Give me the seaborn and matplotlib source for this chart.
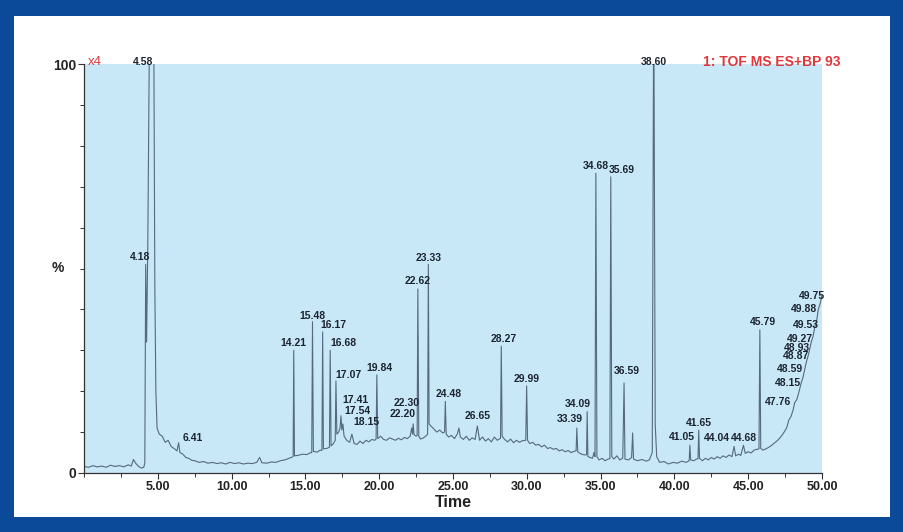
import matplotlib
matplotlib.use("Agg")
import matplotlib.pyplot as plt
import seaborn as sns
import pandas as pd
from matplotlib.patches import Rectangle
from matplotlib.ticker import FixedLocator

# ---------------- data ----------------
trace_time = [
    0.00, 0.30, 0.60, 0.90, 1.20, 1.50, 1.80, 2.10, 2.40, 2.70,
    3.00, 3.20, 3.35, 3.50, 3.70, 3.90, 4.05, 4.12, 4.18, 4.24,
    4.32, 4.45, 4.58, 4.72, 4.80, 4.87, 4.95, 5.10, 5.30, 5.50,
    5.70, 5.90, 6.10, 6.30, 6.41, 6.50, 6.70, 6.90, 7.10, 7.30,
    7.50, 7.80, 8.10, 8.40, 8.70, 9.00, 9.30, 9.60, 9.90, 10.20,
    10.50, 10.80, 11.10, 11.40, 11.70, 11.90, 12.05, 12.40, 12.70, 13.00,
    13.30, 13.60, 13.90, 14.10, 14.17, 14.21, 14.26, 14.50, 14.80, 15.10,
    15.30, 15.43, 15.48, 15.54, 15.80, 16.00, 16.12, 16.17, 16.22, 16.45,
    16.63, 16.68, 16.74, 16.90, 17.02, 17.07, 17.13, 17.25, 17.35, 17.41,
    17.47, 17.54, 17.62, 17.80, 18.00, 18.15, 18.30, 18.50, 18.70, 18.90,
    19.10, 19.30, 19.50, 19.70, 19.79, 19.84, 19.90, 20.10, 20.30, 20.50,
    20.70, 20.90, 21.10, 21.30, 21.50, 21.70, 21.90, 22.10, 22.20, 22.26,
    22.30, 22.36, 22.50, 22.57, 22.62, 22.68, 22.80, 23.00, 23.15, 23.28,
    23.33, 23.38, 23.50, 23.70, 23.90, 24.10, 24.30, 24.43, 24.48, 24.54,
    24.70, 24.90, 25.10, 25.30, 25.40, 25.50, 25.70, 25.90, 26.10, 26.30,
    26.50, 26.65, 26.80, 27.00, 27.20, 27.40, 27.60, 27.80, 28.00, 28.22,
    28.27, 28.33, 28.50, 28.70, 28.90, 29.10, 29.30, 29.50, 29.70, 29.93,
    29.99, 30.05, 30.20, 30.40, 30.60, 30.80, 31.00, 31.20, 31.40, 31.60,
    31.80, 32.00, 32.20, 32.40, 32.60, 32.80, 33.00, 33.20, 33.34, 33.39,
    33.45, 33.60, 33.80, 34.00, 34.05, 34.09, 34.14, 34.30, 34.45, 34.55,
    34.62, 34.68, 34.75, 34.90, 35.10, 35.30, 35.50, 35.63, 35.69, 35.76,
    35.90, 36.10, 36.30, 36.50, 36.59, 36.65, 36.90, 37.10, 37.17, 37.23,
    37.50, 37.80, 38.10, 38.30, 38.50, 38.60, 38.70, 38.80, 39.00, 39.30,
    39.60, 39.90, 40.20, 40.50, 40.80, 41.00, 41.05, 41.10, 41.30, 41.50,
    41.60, 41.65, 41.70, 41.90, 42.10, 42.30, 42.50, 42.70, 42.90, 43.10,
    43.30, 43.50, 43.70, 43.90, 44.04, 44.15, 44.35, 44.50, 44.68, 44.80,
    45.00, 45.20, 45.40, 45.60, 45.73, 45.79, 45.85, 46.00, 46.20, 46.40,
    46.60, 46.80, 47.00, 47.20, 47.40, 47.60, 47.76, 47.90, 48.05, 48.15,
    48.30, 48.45, 48.59, 48.72, 48.87, 48.93, 49.05, 49.15, 49.27, 49.40,
    49.53, 49.65, 49.75, 49.88, 50.00,
]
trace_pct = [
    1.6, 1.4, 1.8, 1.5, 1.7, 1.4, 1.9, 1.6, 1.8, 1.5,
    2.0, 1.7, 3.3, 2.4, 1.6, 1.2, 1.4, 2.5, 51.0, 32.0,
    55.0, 115.0, 125.0, 115.0, 45.0, 20.0, 11.0, 9.5, 9.0, 7.5,
    8.0, 6.5, 6.0, 5.4, 7.4, 5.0, 4.6, 3.8, 3.6, 3.1,
    3.0, 2.6, 2.8, 2.4, 2.6, 2.3, 2.5, 2.2, 2.6, 2.3,
    2.5, 2.2, 2.4, 2.3, 2.6, 3.8, 2.5, 2.4, 2.7, 2.6,
    3.0, 3.2, 3.6, 3.9, 4.0, 30.0, 4.2, 4.3, 4.6, 4.5,
    4.9, 5.0, 37.0, 5.3, 5.1, 5.6, 5.5, 34.5, 5.9, 6.0,
    6.3, 30.0, 6.6, 7.2, 8.0, 22.5, 9.5, 10.0, 11.0, 14.0,
    10.5, 12.0, 9.0, 8.0, 7.5, 9.5, 7.2, 7.0, 7.8, 7.2,
    8.0, 7.6, 8.2, 8.0, 8.3, 24.0, 8.4, 9.0, 8.2, 8.0,
    8.6, 8.3, 8.0, 8.5, 8.1, 8.7, 8.4, 9.0, 11.0, 9.5,
    12.0, 9.4, 9.0, 9.2, 45.0, 9.0, 8.3, 8.6, 9.0, 9.5,
    51.0, 12.0, 11.5, 10.8, 10.0, 10.5, 9.8, 10.0, 17.5, 9.5,
    8.8, 9.2, 8.4, 9.6, 11.0, 8.8, 8.2, 9.0, 8.0, 8.6,
    8.2, 11.5, 8.0, 8.8, 7.8, 8.4, 7.6, 8.8, 8.0, 8.5,
    31.0, 9.0, 8.2, 7.6, 8.3, 7.4, 8.0, 7.5, 7.9, 8.0,
    21.3, 8.0, 7.2, 7.5, 6.8, 7.0, 6.4, 6.8, 6.0, 6.2,
    5.8, 6.0, 5.4, 5.7, 5.2, 5.5, 5.0, 5.3, 5.4, 11.0,
    5.2, 4.8, 4.5, 4.4, 4.5, 15.0, 4.0, 3.8, 3.6, 5.0,
    4.0, 73.3, 4.0, 3.2, 3.6, 3.0, 3.4, 3.5, 72.4, 4.0,
    3.4, 4.2, 3.2, 3.6, 22.0, 3.4, 3.2, 3.8, 9.8, 3.4,
    3.0, 3.3, 2.9, 3.2, 5.0, 120.0, 12.0, 4.0, 2.6, 2.8,
    2.2, 2.6, 2.4, 2.9, 2.6, 3.0, 6.8, 3.2, 3.0, 3.4,
    3.5, 10.5, 3.6, 3.0, 3.6, 3.2, 3.8, 3.4, 4.0, 3.6,
    4.2, 3.8, 4.4, 4.0, 6.5, 4.2, 4.6, 4.3, 6.8, 4.8,
    5.2, 4.9, 5.6, 5.8, 5.9, 35.0, 6.0, 5.6, 5.9, 6.3,
    6.8, 7.4, 8.0, 8.8, 9.8, 11.0, 13.0, 13.8, 15.5, 17.2,
    18.0, 20.0, 22.0, 23.5, 26.0, 27.0, 28.5, 30.0, 32.0, 33.5,
    36.0, 37.5, 40.0, 41.5, 43.5,
]

# labelled peaks: retention time and apex height (%) used to anchor the label
peak_time = [4.18, 4.58, 6.41, 14.21, 15.48, 16.17, 16.68, 17.07, 17.41, 17.54,
             18.15, 19.84, 22.20, 22.30, 22.62, 23.33, 24.48, 26.65, 28.27, 29.99,
             33.39, 34.09, 34.68, 35.69, 36.59, 38.60, 41.05, 41.65, 44.04, 44.68,
             45.79, 47.76, 48.15, 48.59, 48.87, 48.93, 49.27, 49.53, 49.88, 49.75]
peak_apex = [51.1, 100.0, 6.8, 30.1, 36.7, 34.5, 30.1, 22.2, 16.1, 13.4,
             10.8, 24.0, 12.7, 15.4, 45.2, 50.9, 17.6, 12.2, 31.1, 21.3,
             11.5, 15.2, 73.3, 72.4, 23.2, 100.0, 7.1, 10.5, 6.8, 6.8,
             35.2, 15.6, 20.3, 23.7, 26.9, 28.9, 31.1, 34.5, 38.4, 41.6]

x_major = [5, 10, 15, 20, 25, 30, 35, 40, 45, 50]
x_tick_labels = ["5.00", "10.00", "15.00", "20.00", "25.00",
                 "30.00", "35.00", "40.00", "45.00", "50.00"]
x_minor = [0, 2.5, 7.5, 12.5, 17.5, 22.5, 27.5, 32.5, 37.5, 42.5, 47.5]
y_major = [0, 100]
y_tick_labels = ["0", "100"]
y_minor = [10, 20, 30, 40, 50, 60, 70, 80, 90]

# ---------------- styling (label nudges in pixels) ----------------
label_nudge = {
    "4.18": -6, "4.58": -9, "6.41": 14, "16.17": 11, "16.68": 13, "17.07": 13,
    "17.41": 14, "17.54": 15, "18.15": 15, "19.84": 3, "22.20": -9, "22.30": -7,
    "24.48": 3, "28.27": 2, "33.39": -7, "34.09": -9, "35.69": 11, "36.59": 3,
    "41.05": -8, "44.04": -17, "45.79": 3, "47.76": -11, "48.15": -7,
    "48.59": -11, "48.87": -9, "48.93": -9, "49.27": -11, "49.53": -9,
    "49.88": -16, "49.75": -6,
}

BORDER = "#0b4a98"
PLOT_BG = "#c8e8f8"
TRACE = "#56697e"
RED = "#e0383c"
DARK = "#1c2430"

sns.set_theme(style="white")
plt.rcParams["font.family"] = ["Liberation Sans", "DejaVu Sans"]

W, H = 904, 532
fig = plt.figure(figsize=(W / 100, H / 100), dpi=100, facecolor=BORDER)
fig.patches.append(Rectangle((14 / W, 15 / H), (W - 28) / W, (H - 31) / H,
                             transform=fig.transFigure, facecolor="white",
                             edgecolor="none", zorder=-5))

ax = fig.add_axes([84 / W, 59 / H, 738 / W, 409 / H])
ax.set_facecolor(PLOT_BG)

df = pd.DataFrame({"Time": trace_time, "pct": trace_pct})
sns.lineplot(data=df, x="Time", y="pct", ax=ax, color=TRACE, linewidth=0.8,
             estimator=None, sort=False)

ax.set_xlim(0, 50)
ax.set_ylim(0, 100)

ax.xaxis.set_major_locator(FixedLocator(x_major))
ax.set_xticklabels(x_tick_labels, fontsize=9, fontweight="bold", color="#222222")
ax.xaxis.set_minor_locator(FixedLocator(x_minor))
ax.yaxis.set_major_locator(FixedLocator(y_major))
ax.set_yticklabels(y_tick_labels, fontsize=10, fontweight="bold", color="#222222")
ax.yaxis.set_minor_locator(FixedLocator(y_minor))
ax.tick_params(axis="both", which="major", direction="out", length=4, width=0.8,
               color="#333333", pad=1.5, bottom=True, left=True)
ax.tick_params(axis="both", which="minor", direction="out", length=3, width=0.7,
               color="#333333", bottom=True, left=True)

sns.despine(ax=ax)
for s in ("left", "bottom"):
    ax.spines[s].set_color("#333333")
    ax.spines[s].set_linewidth(0.9)

ax.set_xlabel("Time", fontsize=11.5, fontweight="bold", color="#222222")
ax.xaxis.set_label_coords(0.5, -0.073)
ax.xaxis.label.set_va("center")
ax.set_ylabel("%", rotation=0, fontsize=10, fontweight="bold", color="#222222")
ax.yaxis.set_label_coords(-0.035, 0.5)
ax.yaxis.label.set_va("center")
ax.yaxis.label.set_ha("center")

ax.text(0.005, 1.005, "x4", transform=ax.transAxes, ha="left", va="center",
        fontsize=9.5, color=RED)
ax.text(1.0244, 1.005, "1: TOF MS ES+BP 93", transform=ax.transAxes,
        ha="right", va="center", fontsize=10, fontweight="bold", color=RED)

for t, h in zip(peak_time, peak_apex):
    key = f"{t:.2f}"
    dx = label_nudge.get(key, 0)
    dy = 2 if h >= 100 else 7
    ax.annotate(key, xy=(t, h), xytext=(dx, dy), textcoords="offset pixels",
                ha="center", va="center", fontsize=7.5, fontweight="bold",
                color=DARK, annotation_clip=False)

fig.savefig("out.png", dpi=100)
